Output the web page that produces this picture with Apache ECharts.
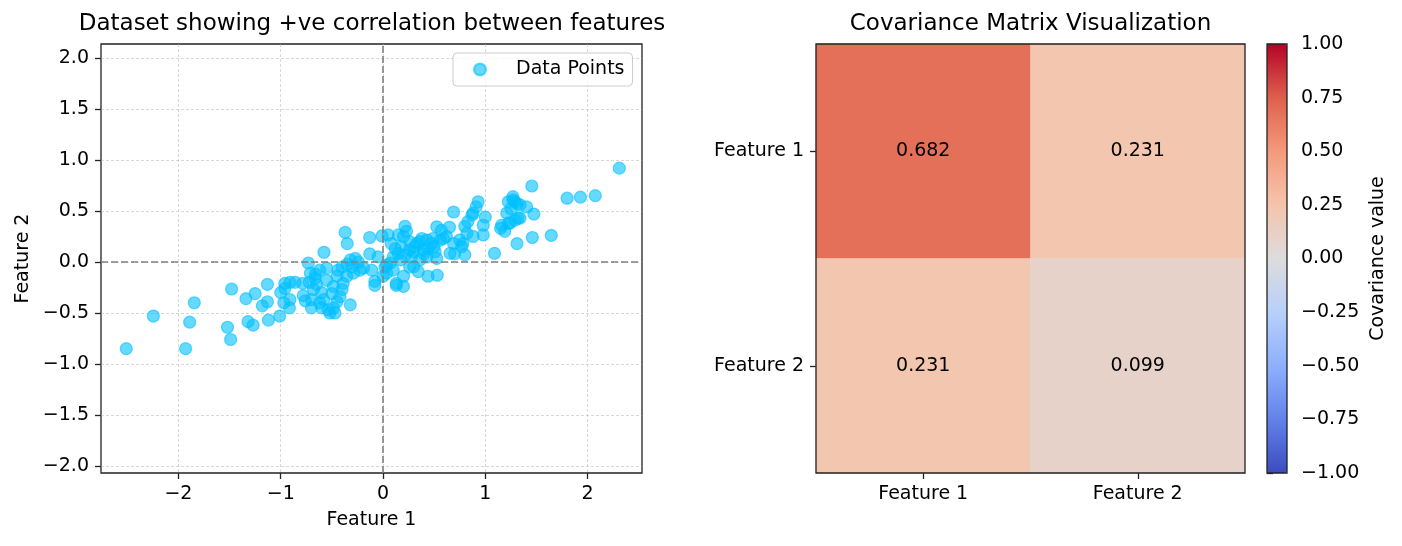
<!DOCTYPE html>
<html>
<head>
<meta charset="utf-8">
<script src="https://cdn.jsdelivr.net/npm/echarts@6/dist/echarts.min.js"></script>
<style>html,body{margin:0;padding:0;background:#fff;}#c{width:1402px;height:546px;}</style>
</head>
<body>
<div id="c"></div>
<script>
// ---- data ----
const scatterTitle = 'Dataset showing +ve correlation between features';
const heatTitle = 'Covariance Matrix Visualization';
const featureNames = ['Feature 1', 'Feature 2'];
const xTicks = [-2, -1, 0, 1, 2];
const yTicks = [-2, -1.5, -1, -0.5, 0, 0.5, 1, 1.5, 2];
const points = [
  [-2.51,-0.85],[-2.245,-0.53],[-1.93,-0.85],[-1.89,-0.59],[-1.845,-0.40],[-1.48,-0.265],[-1.52,-0.64],[-1.49,-0.76],
  [-1.34,-0.36],[-1.25,-0.31],[-1.13,-0.22],[-1.18,-0.43],[-1.13,-0.39],[-1.32,-0.585],[-1.27,-0.62],[-1.12,-0.57],[-1.01,-0.53],
  [-0.96,-0.21],[-0.96,-0.26],[-0.91,-0.20],[-0.86,-0.20],[-0.785,-0.21],[-0.91,-0.37],[-0.915,-0.45],[-1.0,-0.30],[-0.97,-0.40],
  [-0.78,-0.33],[-0.70,-0.37],[-0.68,-0.27],[-0.73,-0.01],[-0.71,-0.11],[-0.665,-0.16],[-0.62,-0.08],[-0.55,-0.06],[-0.58,-0.37],
  [-0.60,-0.45],[-0.535,-0.47],[-0.485,-0.45],[-0.485,-0.24],[-0.45,-0.14],[-0.50,-0.31],[-0.577,0.095],[-0.52,-0.50],[-0.47,-0.50],
  [-0.32,-0.42],[-0.72,-0.20],[-0.65,-0.22],[-0.60,-0.30],[-0.55,-0.18],[-0.62,-0.40],[-0.70,-0.45],[-0.76,-0.38],[-0.66,-0.12],
  [-0.37,0.29],[-0.35,0.18],[-0.13,0.24],[-0.01,0.255],[0.05,0.265],[0.15,0.265],[-0.13,0.08],[-0.05,0.05],[-0.08,-0.19],[-0.08,-0.23],
  [-0.27,0.035],[-0.32,0.02],[-0.19,-0.06],[-0.225,-0.08],[-0.29,-0.11],[-0.355,-0.14],[-0.39,-0.21],[-0.40,-0.27],[-0.42,-0.34],
  [-0.45,-0.39],[-0.11,-0.08],[-0.24,0.00],[-0.40,-0.05],[-0.35,-0.02],[-0.44,-0.08],[-0.30,-0.05],
  [0.035,-0.03],[0.07,-0.01],[0.0,-0.14],[0.02,-0.05],[0.2,-0.14],[0.13,-0.23],[0.2,-0.24],[0.215,0.35],[0.23,0.30],[0.18,0.15],
  [0.15,0.085],[0.035,-0.11],[0.13,-0.21],[0.2,0.25],[0.26,0.20],[0.26,0.12],[0.28,0.05],[0.26,-0.05],[0.30,0.10],[0.10,0.05],
  [0.12,0.13],[0.08,0.18],[0.17,0.02],[0.22,0.07],[0.10,-0.08],
  [0.33,0.18],[0.36,0.20],[0.31,0.15],[0.38,0.23],[0.43,0.215],[0.49,0.23],[0.475,0.18],[0.525,0.345],[0.57,0.31],[0.59,0.23],
  [0.56,0.215],[0.51,0.10],[0.525,0.035],[0.44,0.13],[0.395,0.12],[0.36,0.02],[0.43,0.05],[0.345,-0.095],[0.44,-0.14],[0.53,-0.13],
  [0.30,-0.045],[0.40,0.08],[0.50,0.15],
  [0.69,0.49],[0.93,0.59],[0.91,0.54],[0.87,0.46],[0.83,0.395],[0.80,0.35],[1.0,0.44],[0.98,0.36],[0.98,0.265],[0.82,0.28],
  [0.88,0.25],[1.09,0.085],[0.655,0.085],[0.70,0.08],[0.80,0.07],[0.77,0.15],[0.75,0.215],[0.69,0.18],[0.65,0.34],[0.78,0.18],
  [0.88,0.48],[0.62,0.25],
  [1.27,0.61],[1.225,0.59],[1.31,0.57],[1.21,0.48],[1.32,0.43],[1.16,0.36],[1.225,0.38],[1.19,0.30],[1.31,0.18],[1.27,0.64],
  [1.29,0.59],[1.34,0.56],[1.405,0.54],[1.475,0.47],[1.34,0.43],[1.29,0.41],[1.24,0.38],[1.455,0.745],[1.46,0.24],[1.15,0.33],[1.25,0.52],
  [1.645,0.26],[1.80,0.625],[1.93,0.635],[2.075,0.65],[2.31,0.92]
];
const covMatrix = [
  [0.682, 0.231],
  [0.231, 0.099]
];
const colorbarTicks = [-1, 1, 0.25];
const coolwarm = ['#3B4CC0','#6282EA','#8DB0FE','#B8D0F9','#DDDCDC','#F5C4AC','#F49A7B','#DE604D','#B40426'];

// ---- chart ----
const FONT = 'DejaVu Sans';
const FS = 19;
const minus = v => (v < 0 ? '\u2212' : '') + Math.abs(v);
const heatData = [];
covMatrix.forEach((row, r) => row.forEach((v, c) => heatData.push([c, r, v])));

const chart = echarts.init(document.getElementById('c'), null, {renderer: 'canvas'});
chart.setOption({
  animation: false,
  backgroundColor: '#fff',
  textStyle: {fontFamily: FONT},
  title: [
    {text: scatterTitle, left: 372, top: 13, textAlign: 'center', padding: 0,
     textStyle: {fontFamily: FONT, fontSize: 23, fontWeight: 'normal', color: '#000'}},
    {text: heatTitle, left: 1030.5, top: 13, textAlign: 'center', padding: 0,
     textStyle: {fontFamily: FONT, fontSize: 23, fontWeight: 'normal', color: '#000'}}
  ],
  legend: {
    data: ['Data Points'], left: 453, top: 53, orient: 'vertical',
    padding: [7, 8, 7, 20], itemWidth: 24, itemHeight: 12, icon: 'circle',
    backgroundColor: 'rgba(255,255,255,0.8)', borderColor: '#cccccc', borderWidth: 1, borderRadius: 4,
    textStyle: {fontFamily: FONT, fontSize: FS, color: '#000', padding: [0, 0, 0, 19]}
  },
  grid: [
    {left: 101, top: 44, width: 541, height: 429, show: true, borderColor: '#222', borderWidth: 1.3, backgroundColor: 'transparent'},
    {left: 816, top: 44, width: 429, height: 429, show: true, borderColor: '#222', borderWidth: 1.3, backgroundColor: 'transparent', z: 10},
    {left: 1267, top: 44, width: 20, height: 429, show: true, borderColor: '#222', borderWidth: 1.3, backgroundColor: 'transparent', z: 10}
  ],
  xAxis: [
    {gridIndex: 0, type: 'value', min: -2.757, max: 2.532,
     name: 'Feature 1', nameLocation: 'middle', nameGap: 38,
     nameTextStyle: {fontFamily: FONT, fontSize: FS, color: '#000'},
     axisLine: {show: false, onZero: false},
     axisTick: {show: true, length: 6, customValues: xTicks, lineStyle: {color: '#222', width: 1.3}},
     axisLabel: {customValues: xTicks, margin: 12, fontFamily: FONT, fontSize: FS, color: '#000', formatter: v => minus(v)},
     splitLine: {show: true, lineStyle: {color: '#b0b0b0', width: 0.5, type: [3, 2]}}},
    {gridIndex: 1, type: 'category', data: featureNames,
     axisLine: {show: false},
     axisTick: {show: true, alignWithLabel: true, length: 6, lineStyle: {color: '#222', width: 1.3}},
     axisLabel: {margin: 12, fontFamily: FONT, fontSize: FS, color: '#000'},
     splitLine: {show: false}},
    {gridIndex: 2, type: 'value', show: false, min: 0, max: 1}
  ],
  yAxis: [
    {gridIndex: 0, type: 'value', min: -2.069, max: 2.137,
     name: 'Feature 2', nameLocation: 'middle', nameGap: 68, nameRotate: 90,
     nameTextStyle: {fontFamily: FONT, fontSize: FS, color: '#000'},
     axisLine: {show: false, onZero: false},
     axisTick: {show: true, length: 6, customValues: yTicks, lineStyle: {color: '#222', width: 1.3}},
     axisLabel: {customValues: yTicks, margin: 12, fontFamily: FONT, fontSize: FS, color: '#000',
                 formatter: v => (v < 0 ? '\u2212' : '') + Math.abs(v).toFixed(1)},
     splitLine: {show: true, lineStyle: {color: '#b0b0b0', width: 0.5, type: [3, 2]}}},
    {gridIndex: 1, type: 'category', data: featureNames, inverse: true,
     axisLine: {show: false},
     axisTick: {show: true, alignWithLabel: true, length: 6, lineStyle: {color: '#222', width: 1.3}},
     axisLabel: {margin: 12, fontFamily: FONT, fontSize: FS, color: '#000'},
     splitLine: {show: false}},
    {gridIndex: 2, type: 'value', position: 'right', min: colorbarTicks[0], max: colorbarTicks[1], interval: colorbarTicks[2],
     name: 'Covariance value', nameLocation: 'middle', nameGap: 82, nameRotate: 90,
     nameTextStyle: {fontFamily: FONT, fontSize: FS, color: '#000'},
     axisLine: {show: false},
     axisTick: {show: true, length: 6, lineStyle: {color: '#222', width: 1.3}},
     axisLabel: {margin: 14, fontFamily: FONT, fontSize: FS, color: '#000',
                 formatter: v => (v < 0 ? '\u2212' : '') + Math.abs(v).toFixed(2)},
     splitLine: {show: false}}
  ],
  visualMap: {
    type: 'continuous', min: -1, max: 1, seriesIndex: 1, calculable: false,
    left: 1267, top: 44, itemWidth: 20, itemHeight: 429, padding: 0, orient: 'vertical',
    inRange: {color: coolwarm}, hoverLink: false
  },
  series: [
    {name: 'Data Points', type: 'scatter', xAxisIndex: 0, yAxisIndex: 0, data: points,
     symbolSize: 12,
     itemStyle: {color: 'rgba(0,191,255,0.6)', borderColor: 'rgba(0,191,255,0.6)', borderWidth: 1.2, opacity: 1},
     markLine: {silent: true, symbol: ['none', 'none'], label: {show: false}, animation: false,
                lineStyle: {color: '#808080', width: 1.6, type: [7, 3]},
                data: [{xAxis: 0}, {yAxis: 0}]}},
    {name: 'Covariance', type: 'heatmap', xAxisIndex: 1, yAxisIndex: 1, data: heatData,
     label: {show: true, fontFamily: FONT, fontSize: FS, color: '#000', formatter: p => p.value[2].toFixed(3)},
     emphasis: {disabled: true}}
  ]
});
</script>
</body>
</html>
